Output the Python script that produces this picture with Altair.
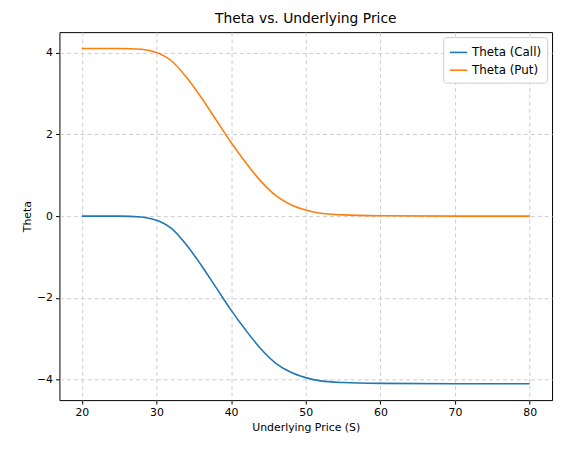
import altair as alt
import pandas as pd

price = [20, 25, 28, 29, 30, 31, 32, 34, 36, 38, 40, 42, 44, 46, 48, 50, 52, 55, 60, 70, 80]
theta_call = [0.0, 0.0, -0.02, -0.05, -0.1, -0.18, -0.3, -0.7, -1.2, -1.75, -2.3, -2.8, -3.25, -3.6,
              -3.82, -3.95, -4.03, -4.07, -4.09, -4.1, -4.1]
theta_put = [4.1, 4.1, 4.08, 4.05, 4.0, 3.92, 3.8, 3.4, 2.9, 2.35, 1.8, 1.3, 0.85, 0.5,
             0.28, 0.15, 0.07, 0.03, 0.01, 0.0, 0.0]

df = pd.concat([
    pd.DataFrame({"S": price, "theta": theta_call, "series": "Theta (Call)"}),
    pd.DataFrame({"S": price, "theta": theta_put, "series": "Theta (Put)"}),
])

minus = "replace(format(datum.value, 'd'), '-', '\u2212')"

chart = (
    alt.Chart(df)
    .mark_line(interpolate="monotone", strokeWidth=1.6)
    .encode(
        x=alt.X("S:Q", title="Underlying Price (S)", scale=alt.Scale(domain=[17, 83], nice=False, zero=False),
                axis=alt.Axis(values=[20, 30, 40, 50, 60, 70, 80], labelExpr=minus)),
        y=alt.Y("theta:Q", title="Theta", scale=alt.Scale(domain=[-4.5, 4.5], nice=False),
                axis=alt.Axis(values=[-4, -2, 0, 2, 4], labelExpr=minus)),
        color=alt.Color("series:N", title=None,
                        scale=alt.Scale(domain=["Theta (Call)", "Theta (Put)"], range=["#1f77b4", "#ff7f0e"]),
                        legend=alt.Legend(orient="top-right", offset=5, symbolType="stroke", symbolStrokeWidth=1.6,
                                          fillColor="white", strokeColor="#cccccc", padding=6,
                                          cornerRadius=3, labelFontSize=12, symbolSize=300)),
    )
    .properties(width=498, height=372, autosize="none",
                padding={"left": 52, "top": 22, "right": 5, "bottom": 45},
                title=alt.Title("Theta vs. Underlying Price", fontSize=14, fontWeight="normal", offset=6))
    .configure(font="DejaVu Sans")
    .configure_view(stroke="black", strokeWidth=1)
    .configure_axis(gridDash=[4, 3], gridColor="#cccccc", domain=False, tickColor="black",
                    labelColor="black", labelFontSize=11, titleFontSize=11, titleFontWeight="normal",
                    titleColor="black", tickSize=4, labelPadding=3)
)

chart.save("out.html", embed_options={"renderer": "svg", "actions": False})
